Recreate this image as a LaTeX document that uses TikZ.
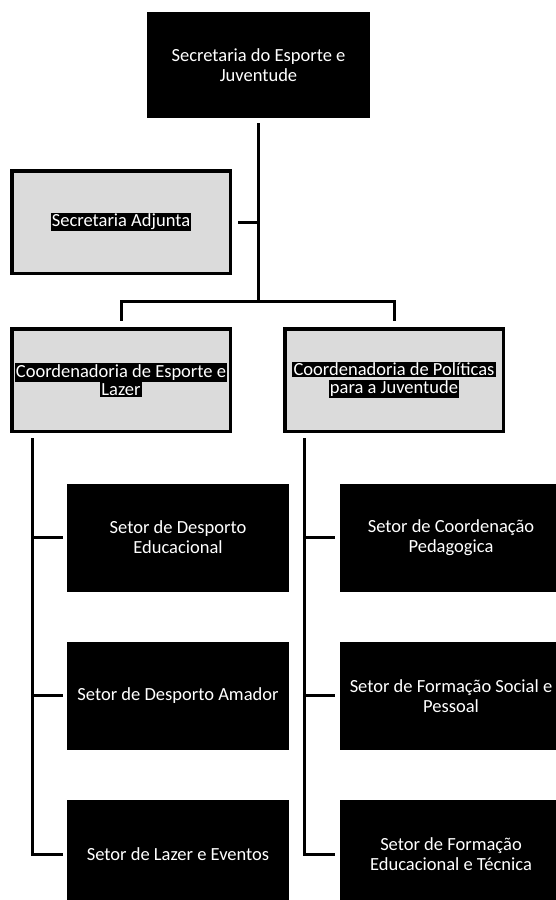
\documentclass[tikz,border=0pt]{standalone}
\usepackage{fontspec}
\setmainfont{Carlito}
\usetikzlibrary{positioning}
\newcommand{\faixa}[1]{{\setlength{\fboxsep}{1.2pt}\colorbox{black}{#1}}}

\begin{document}
\begin{tikzpicture}[
  x=1pt, y=-1pt,
  font=\fontsize{18.5}{20}\selectfont,
  linha/.style={draw=black, line width=3pt},
  chefe/.style={fill=black, text=white, align=center, minimum width=223pt, minimum height=106pt, inner sep=0pt},
  cinza/.style={fill=black!14, draw=black, line width=3.5pt, text=white, align=center, minimum width=218.5pt, minimum height=102.5pt, inner sep=0pt},
  setor/.style={fill=black, text=white, align=center, minimum width=222pt, minimum height=108pt, inner sep=0pt}
]
\useasboundingbox (0,0) rectangle (556,900);

\node[chefe] (secretaria) at (258.5,65) {Secretaria do Esporte e\\Juventude};
\node[cinza] (adjunta) at (121,222) {\faixa{Secretaria Adjunta}};
\node[cinza] (coordEsporte) at (121,380) {\faixa{Coordenadoria de Esporte e}\\[-2pt]\faixa{Lazer}};
\node[cinza] (coordJuventude) at (394,380) {\faixa{Coordenadoria de Políticas}\\[-2pt]\faixa{para a Juventude}};

% setores da esquerda
\node[setor] (desportoEdu) at (178,537.5) {Setor de Desporto\\Educacional};
\node[setor, below=50pt of desportoEdu] (desportoAmador) {Setor de Desporto Amador};
\node[setor, below=50pt of desportoAmador] (lazerEventos) {Setor de Lazer e Eventos};

% setores da direita
\node[setor] (coordPedagogica) at (451,537.5) {Setor de Coordenação\\Pedagogica};
\node[setor, below=50pt of coordPedagogica] (formacaoSocial) {Setor de Formação Social e\\Pessoal};
\node[setor, below=50pt of formacaoSocial] (formacaoTecnica) {Setor de Formação\\Educacional e Técnica};

\coordinate (barra) at (258.5,301);
\coordinate (troncoE) at ([xshift=22pt]coordEsporte.south west);
\coordinate (troncoJ) at ([xshift=21pt]coordJuventude.south west);

\draw[linha, shorten <=5pt] (secretaria.south) -- (barra);
\draw[linha, shorten <=6pt] (adjunta.east) -- (adjunta.east -| secretaria.south);
\draw[linha, shorten >=6pt] (barra) -| (coordEsporte.north);
\draw[linha, shorten >=6pt] (barra) -| (coordJuventude.north);
\foreach \s in {desportoEdu,desportoAmador,lazerEventos}
  \draw[linha, shorten <=5pt, shorten >=4pt] (troncoE) |- (\s.west);
\foreach \s in {coordPedagogica,formacaoSocial,formacaoTecnica}
  \draw[linha, shorten <=5pt, shorten >=5pt] (troncoJ) |- (\s.west);
\end{tikzpicture}
\end{document}
